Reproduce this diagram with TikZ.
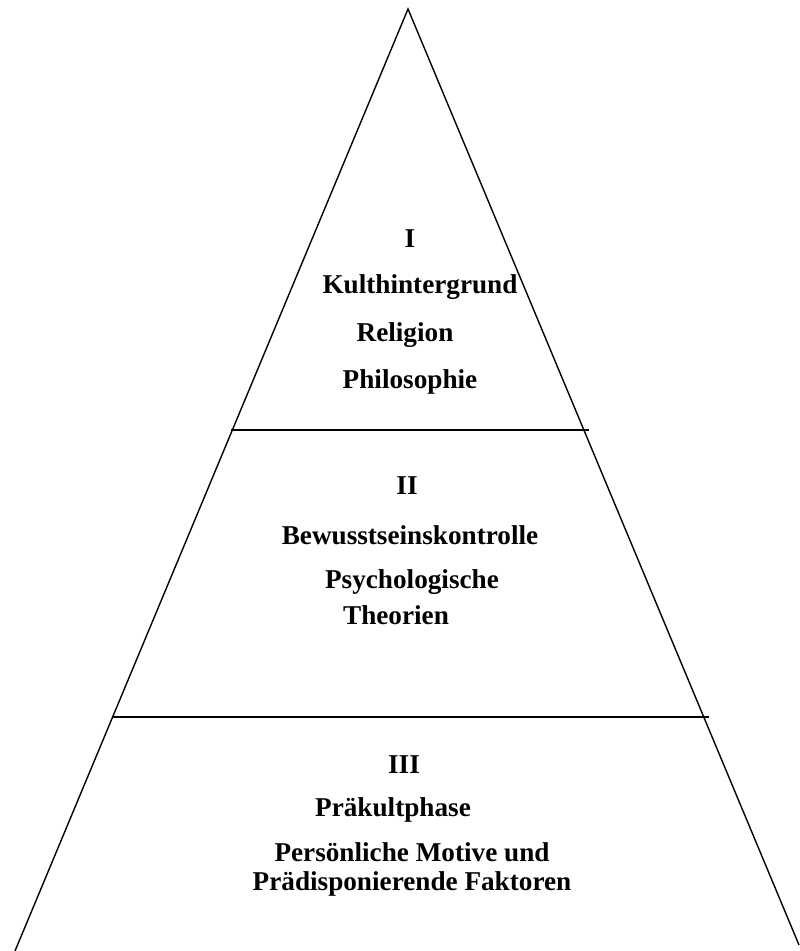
\documentclass[tikz,border=0pt]{standalone}
\usepackage{fontspec}
\setmainfont{Liberation Serif}
\tikzset{
  lbl/.style={font=\bfseries\fontsize{13.6}{16}\selectfont, inner sep=0pt, anchor=center},
}
\begin{document}
\begin{tikzpicture}[x=0.5pt,y=-0.5pt]
  \useasboundingbox (0,0) rectangle (799,951);
  % Triangle outline
  \coordinate (top) at (408,9);
  \coordinate (bl) at (15,951);
  \coordinate (br) at (799,945);
  \draw[line width=0.7pt] (bl) -- (top) -- (br);
  % Dividing lines
  \coordinate (d1l) at (231,430);
  \coordinate (d1r) at (589,430);
  \coordinate (d2l) at (112,717);
  \coordinate (d2r) at (709,717);
  \draw[line width=0.6pt] (d1l) -- (d1r);
  \draw[line width=0.6pt] (d2l) -- (d2r);

  % Level I
  \node[lbl] (n1) at (410,239) {I};
  \node[lbl] (kult) at (420,287) {Kulthintergrund};
  \node[lbl] (rel) at (405,335) {Religion};
  \node[lbl] (phil) at (410,382) {Philosophie};
  % Level II
  \node[lbl] (n2) at (407,486) {II};
  \node[lbl] (bew) at (410,535) {Bewusstseinskontrolle};
  \node[lbl] (psy) at (412,582) {Psychologische};
  \node[lbl] (theo) at (396,615) {Theorien};
  % Level III
  \node[lbl] (n3) at (404,765) {III};
  \node[lbl] (prae) at (393,810) {Präkultphase};
  \node[lbl] (pers) at (412,852) {Persönliche Motive und};
  \node[lbl] (fakt) at (412,884) {Prädisponierende Faktoren};
\end{tikzpicture}
\end{document}
